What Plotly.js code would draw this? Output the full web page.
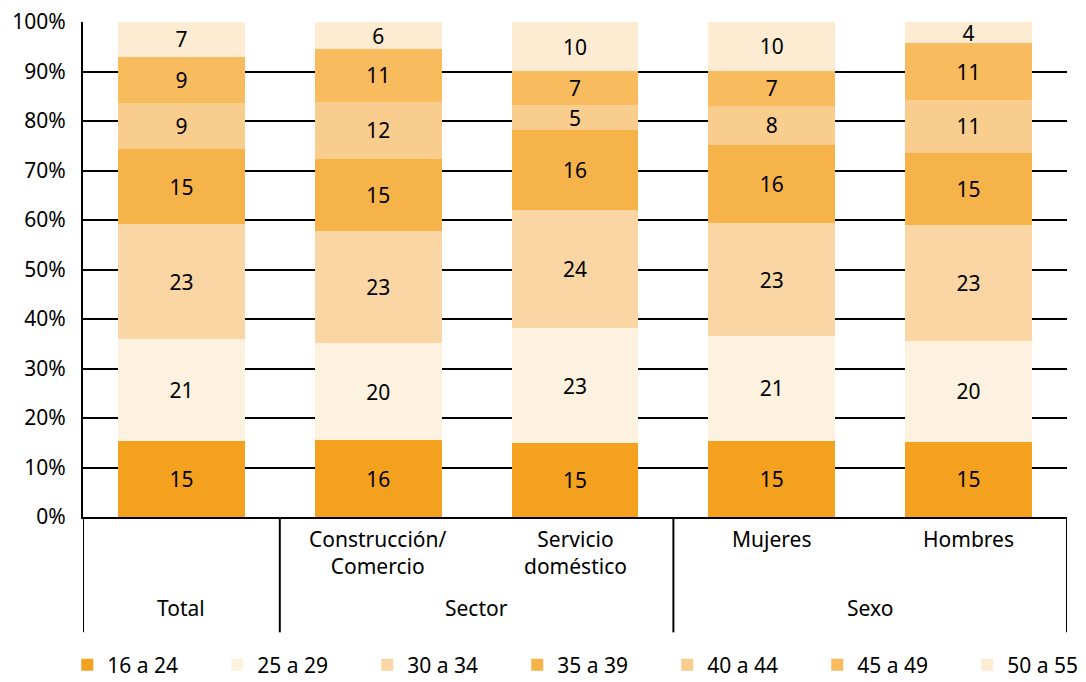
<!DOCTYPE html>
<html>
<head>
<meta charset="utf-8">
<script src="https://cdn.plot.ly/plotly-3.0.1.min.js"></script>
<style>
  body { margin: 0; background: #fff; }
  #chart { width: 1086px; height: 682px; }
</style>
</head>
<body>
<div id="chart"></div>
<script>
// categories (x ids), the label shown under each bar and the group row
var categories = ['Total', 'Construcción/Comercio', 'Servicio doméstico', 'Mujeres', 'Hombres'];
var subLabels = ['', 'Construcción/<br>Comercio', 'Servicio<br>doméstico', 'Mujeres', 'Hombres'];
var groups = ['Total', 'Sector', 'Sector', 'Sexo', 'Sexo'];

var seriesNames = ['16 a 24', '25 a 29', '30 a 34', '35 a 39', '40 a 44', '45 a 49', '50 a 55'];

// percentages per age band
var s16_24 = [15.4, 15.5, 15.0, 15.4, 15.2];
var s25_29 = [20.6, 19.6, 23.1, 21.2, 20.4];
var s30_34 = [23.1, 22.6, 24.0, 22.7, 23.3];
var s35_39 = [15.2, 14.6, 16.0, 15.9, 14.6];
var s40_44 = [9.4, 11.6, 5.1, 7.9, 10.8];
var s45_49 = [9.3, 10.6, 6.9, 7.1, 11.4];
var s50_55 = [7.0, 5.5, 9.9, 9.8, 4.3];

var colors = ['#F4A11F', '#FDF1DF', '#F9D6A3', '#F6B34A', '#F9CD8E', '#F8BC5E', '#FDEBD2'];
var FONT = '"Noto Sans", sans-serif';

var allSeries = [s16_24, s25_29, s30_34, s35_39, s40_44, s45_49, s50_55];

var data = allSeries.map(function (vals, i) {
    return {
        type: 'bar',
        name: seriesNames[i],
        x: categories,
        y: vals,
        text: vals.map(function (v) { return String(Math.round(v)); }),
        textposition: 'inside',
        insidetextanchor: 'middle',
        textangle: 0,
        constraintext: 'none',
        textfont: { family: FONT, size: 21, color: '#000' },
        marker: { color: colors[i] },
        hoverinfo: 'name+y'
    };
});

// labels under the axis
var annotations = [];
categories.forEach(function (c, i) {
    if (subLabels[i]) {
        annotations.push({
            x: c, xref: 'x', y: -0.012, yref: 'paper',
            yanchor: 'top', xanchor: 'center', showarrow: false,
            text: subLabels[i], align: 'center',
            font: { family: FONT, size: 21, color: '#000' }
        });
    }
});

// group labels + dividers, worked out from the groups array
var shapes = [];
var start = 0;
for (var i = 1; i <= groups.length; i++) {
    if (i === groups.length || groups[i] !== groups[start]) {
        annotations.push({
            x: (start + i - 1) / 2, xref: 'x', y: -0.183, yref: 'paper',
            yanchor: 'middle', xanchor: 'center', showarrow: false,
            text: groups[start],
            font: { family: FONT, size: 21, color: '#000' }
        });
        start = i;
    }
}
for (var j = 0; j <= groups.length; j++) {
    if (j === 0 || j === groups.length || groups[j] !== groups[j - 1]) {
        shapes.push({
            type: 'line', xref: 'x', yref: 'paper',
            x0: j - 0.5, x1: j - 0.5, y0: 0, y1: -0.233,
            line: { color: '#000', width: 2 }
        });
    }
}

var layout = {
    width: 1086,
    height: 682,
    margin: { l: 83, r: 19, t: 22, b: 165, autoexpand: false },
    paper_bgcolor: '#fff',
    plot_bgcolor: '#fff',
    barmode: 'stack',
    bargap: 0.355,
    showlegend: true,
    font: { family: FONT, size: 21, color: '#000' },
    xaxis: {
        type: 'category',
        showticklabels: false,
        ticks: '',
        showline: true,
        linecolor: '#000',
        linewidth: 2,
        showgrid: false,
        range: [-0.5, 4.5],
        fixedrange: true
    },
    yaxis: {
        range: [0, 100],
        dtick: 10,
        ticksuffix: '%',
        showgrid: true,
        gridcolor: '#000',
        gridwidth: 2,
        showline: true,
        linecolor: '#000',
        linewidth: 2,
        zeroline: false,
        ticks: '',
        ticklen: 0,
        ticklabelstandoff: 11,
        tickfont: { family: FONT, size: 21, color: '#000' },
        fixedrange: true
    },
    legend: {
        orientation: 'h',
        traceorder: 'normal',
        x: -0.016,
        xanchor: 'left',
        y: -0.258,
        yanchor: 'top',
        entrywidth: 105,
        itemwidth: 30,
        font: { family: FONT, size: 21, color: '#000' }
    },
    annotations: annotations,
    shapes: shapes
};

Plotly.newPlot('chart', data, layout, { displayModeBar: false, staticPlot: true });
</script>
</body>
</html>
